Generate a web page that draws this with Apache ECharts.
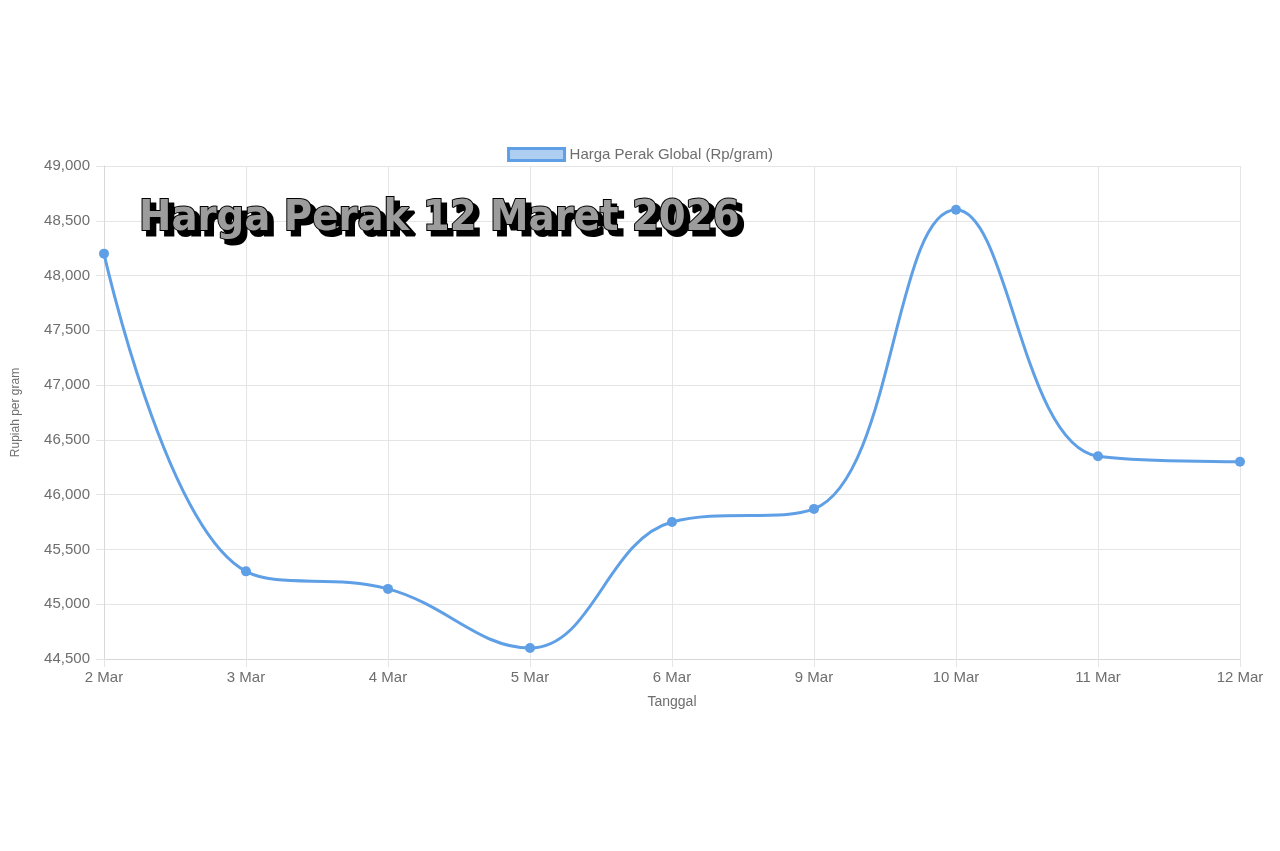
<!DOCTYPE html>
<html>
<head>
<meta charset="utf-8">
<title>Harga Perak 12 Maret 2026</title>
<script src="https://cdn.jsdelivr.net/npm/echarts@6/dist/echarts.min.js"></script>
<style>
  html, body { margin: 0; padding: 0; background: #fff; }
  #main { width: 1280px; height: 851px; }
</style>
</head>
<body>
<div id="main"></div>
<script>
// data
var tanggal = ['2 Mar', '3 Mar', '4 Mar', '5 Mar', '6 Mar', '9 Mar', '10 Mar', '11 Mar', '12 Mar'];
var harga = [48200, 45300, 45140, 44600, 45750, 45870, 48600, 46350, 46300];
var seriesName = 'Harga Perak Global (Rp/gram)';
var judul = 'Harga Perak 12 Maret 2026';
var yMin = 44500;
var yMax = 49000;
var yStep = 500;

var myChart = echarts.init(document.getElementById('main'));

var abu = '#6e6e6e';
var garis = '#e5e5e5';

// gaya judul: teks abu-abu tebal dengan bayangan hitam
var judulFont = {
  fontFamily: 'DejaVu Sans Condensed',
  fontWeight: 'bold',
  fontSize: 43
};

var option = {
  backgroundColor: '#fff',
  textStyle: { fontFamily: 'Liberation Sans, Arial, sans-serif' },
  title: [
    {
      // bayangan
      text: judul,
      left: 139,
      top: 197,
      textStyle: Object.assign({}, judulFont, {
        color: '#000',
        textBorderColor: '#000',
        textBorderWidth: 3
      })
    },
    {
      text: judul,
      left: 134,
      top: 192,
      textStyle: Object.assign({}, judulFont, {
        color: '#9c9c9c',
        textBorderColor: '#000',
        textBorderWidth: 2
      })
    }
  ],
  legend: {
    top: 142,
    left: 'center',
    data: [{
      name: seriesName,
      icon: 'rect',
      itemStyle: { color: 'rgba(95,159,230,0.5)', borderColor: '#5f9fe6', borderWidth: 3 }
    }],
    itemWidth: 56,
    itemHeight: 12,
    itemGap: 10,
    textStyle: { color: abu, fontSize: 15 }
  },
  grid: {
    left: 104,
    right: 40,
    top: 166,
    bottom: 192,
    containLabel: false
  },
  xAxis: {
    type: 'category',
    data: tanggal,
    boundaryGap: false,
    name: 'Tanggal',
    nameLocation: 'middle',
    nameGap: 36,
    nameTextStyle: { color: abu, fontSize: 14 },
    axisLine: { lineStyle: { color: '#d8d8d8' } },
    axisTick: { show: true, length: 8, lineStyle: { color: garis } },
    axisLabel: { color: abu, fontSize: 15, margin: 11 },
    splitLine: { show: true, lineStyle: { color: garis } }
  },
  yAxis: {
    type: 'value',
    min: yMin,
    max: yMax,
    interval: yStep,
    name: 'Rupiah per gram',
    nameLocation: 'middle',
    nameGap: 82,
    nameTextStyle: { color: abu, fontSize: 12 },
    axisLine: { show: true, lineStyle: { color: '#d8d8d8' } },
    axisTick: { show: true, length: 8, lineStyle: { color: garis } },
    axisLabel: {
      color: abu,
      fontSize: 15,
      margin: 14,
      formatter: function (v) { return v.toLocaleString('en-US'); }
    },
    splitLine: { show: true, lineStyle: { color: garis } }
  },
  series: [
    {
      name: seriesName,
      type: 'line',
      data: harga,
      smooth: 0.4,
      symbol: 'circle',
      symbolSize: 10,
      lineStyle: { color: '#5f9fe6', width: 3 },
      itemStyle: { color: '#5f9fe6' }
    }
  ]
};

option && myChart.setOption(option);
</script>
</body>
</html>
